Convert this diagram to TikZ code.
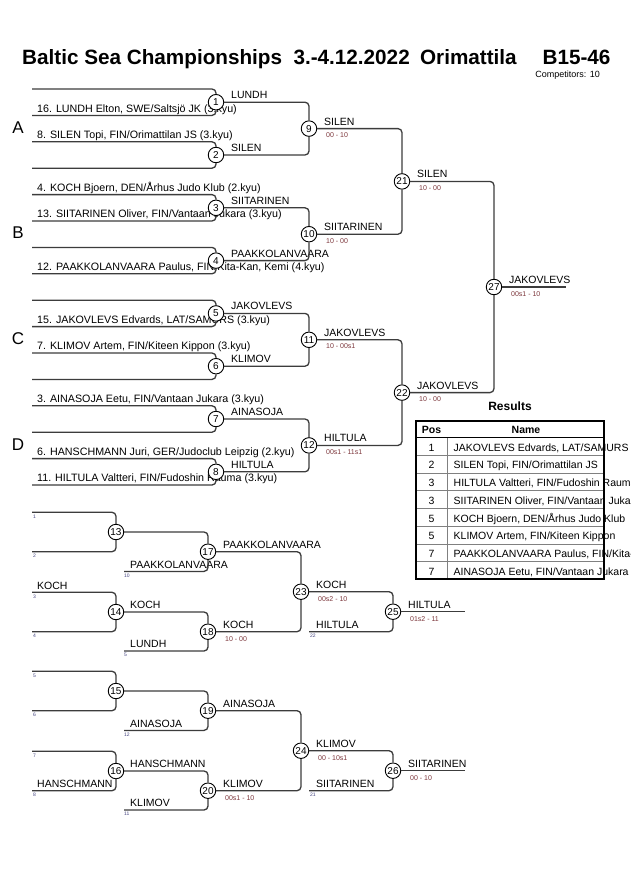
\documentclass[tikz,border=0pt]{standalone}
\usepackage{fontspec}
\setmainfont{Liberation Sans}
\definecolor{ln}{RGB}{60,60,60}
\definecolor{sc}{RGB}{125,55,60}
\definecolor{tn}{RGB}{70,70,130}
\begin{document}
\begin{tikzpicture}[x=1pt,y=-1pt,
  br/.style={draw=ln,line width=1.3pt,rounded corners=4pt},
  mc/.style={circle,draw=black,line width=0.9pt,fill=white,minimum size=15.5pt,inner sep=0pt,font=\fontsize{10}{10}\selectfont},
  nm/.style={anchor=base west,inner sep=0pt,font=\fontsize{10.5}{12}\selectfont},
  cn/.style={anchor=base west,inner sep=0pt,font=\fontsize{10.7}{12}\selectfont},
  sco/.style={anchor=base west,inner sep=0pt,text=sc,font=\fontsize{7}{8}\selectfont},
  tno/.style={anchor=base west,inner sep=0pt,text=tn,font=\fontsize{5}{6}\selectfont},
  grp/.style={inner sep=0pt,font=\fontsize{17}{20}\selectfont},
  tb/.style={draw=black,line width=2pt},
  tl/.style={draw=gray,line width=0.8pt},
  cell/.style={anchor=base,inner sep=0pt,font=\fontsize{10.5}{12}\selectfont},
  celln/.style={anchor=base west,inner sep=0pt,font=\fontsize{10.5}{12}\selectfont}
]
\useasboundingbox[fill=white] (0,0) rectangle (630,891);

% ---------- title ----------
\node[anchor=base west,inner sep=0pt,font=\fontsize{20.7}{24}\selectfont\bfseries] (title) at (22,64.5)
  {Baltic Sea Championships\hspace{0.55em}3.-4.12.2022\hspace{0.5em}Orimattila\hspace{1.25em}B15-46};
\node[anchor=base east,inner sep=0pt,font=\fontsize{9}{10}\selectfont] (comp) at (600,77.5) {Competitors: 10};

% ---------- group letters ----------
\node[grp] (gA) at (18,128) {A};
\node[grp] (gB) at (18,233) {B};
\node[grp] (gC) at (18,339) {C};
\node[grp] (gD) at (18,445) {D};

% ---------- competitor names (main) ----------
\node[cn] (c16) at (37,112.0) {16. LUNDH Elton, SWE/Saltsjö JK (3.kyu)};
\node[cn] (c8)  at (37,138.4) {8. SILEN Topi, FIN/Orimattilan JS (3.kyu)};
\node[cn] (c4)  at (37,191.2) {4. KOCH Bjoern, DEN/Århus Judo Klub (2.kyu)};
\node[cn] (c13) at (37,217.6) {13. SIITARINEN Oliver, FIN/Vantaan Jukara (3.kyu)};
\node[cn] (c12) at (37,270.4) {12. PAAKKOLANVAARA Paulus, FIN/Kita-Kan, Kemi (4.kyu)};
\node[cn] (c15) at (37,323.2) {15. JAKOVLEVS Edvards, LAT/SAMURS (3.kyu)};
\node[cn] (c7)  at (37,349.6) {7. KLIMOV Artem, FIN/Kiteen Kippon (3.kyu)};
\node[cn] (c3)  at (37,402.4) {3. AINASOJA Eetu, FIN/Vantaan Jukara (3.kyu)};
\node[cn] (c6)  at (37,455.2) {6. HANSCHMANN Juri, GER/Judoclub Leipzig (2.kyu)};
\node[cn] (c11) at (37,481.6) {11. HILTULA Valtteri, FIN/Fudoshin Rauma (3.kyu)};

% ---------- winner labels (main) ----------
\node[nm] (w1) at (231,98.6) {LUNDH};
\node[nm] (w2) at (231,151.4) {SILEN};
\node[nm] (w3) at (231,204.2) {SIITARINEN};
\node[nm] (w4) at (231,257.0) {PAAKKOLANVAARA};
\node[nm] (w5) at (231,309.8) {JAKOVLEVS};
\node[nm] (w6) at (231,362.6) {KLIMOV};
\node[nm] (w7) at (231,415.4) {AINASOJA};
\node[nm] (w8) at (231,468.2) {HILTULA};
\node[nm] (w9)  at (324,125.0) {SILEN};
\node[sco] (s9) at (326,137.6) {00 - 10};
\node[nm] (w10) at (324,230.6) {SIITARINEN};
\node[sco] (s10) at (326,243.2) {10 - 00};
\node[nm] (w11) at (324,336.2) {JAKOVLEVS};
\node[sco] (s11) at (326,348.8) {10 - 00s1};
\node[nm] (w12) at (324,441.8) {HILTULA};
\node[sco] (s12) at (326,454.4) {00s1 - 11s1};
\node[nm] (w21) at (417,177.8) {SILEN};
\node[sco] (s21) at (419,190.4) {10 - 00};
\node[nm] (w22) at (417,389.0) {JAKOVLEVS};
\node[sco] (s22) at (419,401.6) {10 - 00};
\node[nm] (w27) at (509,283.4) {JAKOVLEVS};
\node[sco] (s27) at (511,296.0) {00s1 - 10};

% ---------- match circles (main) ----------
\node[mc] (m1) at (216,102.2) {1};
\node[mc] (m2) at (216,155.0) {2};
\node[mc] (m3) at (216,207.8) {3};
\node[mc] (m4) at (216,260.6) {4};
\node[mc] (m5) at (216,313.4) {5};
\node[mc] (m6) at (216,366.2) {6};
\node[mc] (m7) at (216,419.0) {7};
\node[mc] (m8) at (216,471.8) {8};
\node[mc] (m9)  at (309,128.6) {9};
\node[mc] (m10) at (309,234.2) {10};
\node[mc] (m11) at (309,339.8) {11};
\node[mc] (m12) at (309,445.4) {12};
\node[mc] (m21) at (402,181.4) {21};
\node[mc] (m22) at (402,392.6) {22};
\node[mc] (m27) at (494,287.0) {27};

% competitor line starts
\foreach \i/\y in {1/89.0,2/115.4,3/141.8,4/168.2,5/194.6,6/221.0,7/247.4,8/273.8,9/300.2,10/326.6,11/353.0,12/379.4,13/405.8,14/432.2,15/458.6,16/485.0}
  \coordinate (p\i) at (32,\y);
\coordinate (f27) at (566,287.0);

\draw[br] (p1) -| (m1); \draw[br] (p2) -| (m1);
\draw[br] (p3) -| (m2); \draw[br] (p4) -| (m2);
\draw[br] (p5) -| (m3); \draw[br] (p6) -| (m3);
\draw[br] (p7) -| (m4); \draw[br] (p8) -| (m4);
\draw[br] (p9) -| (m5); \draw[br] (p10) -| (m5);
\draw[br] (p11) -| (m6); \draw[br] (p12) -| (m6);
\draw[br] (p13) -| (m7); \draw[br] (p14) -| (m7);
\draw[br] (p15) -| (m8); \draw[br] (p16) -| (m8);
\draw[br] (m1) -| (m9); \draw[br] (m2) -| (m9);
\draw[br] (m3) -| (m10); \draw[br] (m4) -| (m10);
\draw[br] (m5) -| (m11); \draw[br] (m6) -| (m11);
\draw[br] (m7) -| (m12); \draw[br] (m8) -| (m12);
\draw[br] (m9) -| (m21); \draw[br] (m10) -| (m21);
\draw[br] (m11) -| (m22); \draw[br] (m12) -| (m22);
\draw[br] (m21) -| (m27); \draw[br] (m22) -| (m27);
\draw[br] (m27) -- (f27);

% ---------- results table ----------
\node[anchor=base,inner sep=0pt,font=\fontsize{12}{14}\selectfont\bfseries] (restitle) at (510,410.7) {Results};
\node[cell,font=\fontsize{10.5}{12}\selectfont\bfseries] (hpos) at (431.5,433.5) {Pos};
\node[cell,font=\fontsize{10.5}{12}\selectfont\bfseries] (hname) at (526,433.5) {Name};
\foreach \k/\p/\n in {0/1/{JAKOVLEVS Edvards, LAT/SAMURS},1/2/{SILEN Topi, FIN/Orimattilan JS},2/3/{HILTULA Valtteri, FIN/Fudoshin Rauma},3/3/{SIITARINEN Oliver, FIN/Vantaan Jukara},4/5/{KOCH Bjoern, DEN/Århus Judo Klub},5/5/{KLIMOV Artem, FIN/Kiteen Kippon},6/7/{PAAKKOLANVAARA Paulus, FIN/Kita-Kan, Kemi},7/7/{AINASOJA Eetu, FIN/Vantaan Jukara}}{
  \node[cell] (rp\k) at (431.5,451.2+17.7*\k) {\p};
  \node[celln] (rn\k) at (453.5,451.2+17.7*\k) {\n};
}
\foreach \k in {1,...,7}
  \draw[tl] (416,437.7+17.7*\k) -- (604,437.7+17.7*\k);
\draw[tl] (447,437.7) -- (447,579.3);
\draw[draw=black,line width=1.2pt] (416,437.7) -- (604,437.7);
\draw[tb] (416,420.7) rectangle (604,579.3);

% ---------- repechage block 1 ----------
\node[nm] (k3) at (37,589.0) {KOCH};
\node[tno] (t1) at (33,518.0) {1};
\node[tno] (t2) at (33,557.4) {2};
\node[tno] (t3) at (33,598.0) {3};
\node[tno] (t4) at (33,637.4) {4};
\node[tno] (t10) at (124,577.4) {10};
\node[tno] (t5) at (124,656.7) {5};
\node[tno] (t22) at (310,637.4) {22};
\node[nm] (l10) at (130,568.4) {PAAKKOLANVAARA};
\node[nm] (l5) at (130,647.7) {LUNDH};
\node[nm] (w14) at (130,608.7) {KOCH};
\node[nm] (w17) at (223,548.4) {PAAKKOLANVAARA};
\node[nm] (w18) at (223,628.4) {KOCH};
\node[sco] (s18) at (225,641.0) {10 - 00};
\node[nm] (w23) at (316,588.4) {KOCH};
\node[sco] (s23) at (318,601.0) {00s2 - 10};
\node[nm] (l22) at (316,628.4) {HILTULA};
\node[nm] (w25) at (408,608.4) {HILTULA};
\node[sco] (s25) at (410,621.0) {01s2 - 11};

\node[mc] (m13) at (116,532.0) {13};
\node[mc] (m14) at (116,612.0) {14};
\node[mc] (m17) at (208,551.7) {17};
\node[mc] (m18) at (208,631.7) {18};
\node[mc] (m23) at (301,591.7) {23};
\node[mc] (m25) at (393,611.7) {25};

\coordinate (q1) at (32,512.3);
\coordinate (q2) at (32,551.7);
\coordinate (q3) at (32,592.3);
\coordinate (q4) at (32,631.7);
\coordinate (q10) at (124,571.4);
\coordinate (q5) at (124,651.0);
\coordinate (q22) at (309,631.7);
\coordinate (f25) at (465,611.7);

\draw[br] (q1) -| (m13); \draw[br] (q2) -| (m13);
\draw[br] (q3) -| (m14); \draw[br] (q4) -| (m14);
\draw[br] (m13) -| (m17); \draw[br] (q10) -| (m17);
\draw[br] (m14) -| (m18); \draw[br] (q5) -| (m18);
\draw[br] (m17) -| (m23); \draw[br] (m18) -| (m23);
\draw[br] (m23) -| (m25); \draw[br] (q22) -| (m25);
\draw[br] (m25) -- (f25);

% ---------- repechage block 2 ----------
\node[nm] (h8) at (37,787.4) {HANSCHMANN};
\node[tno] (u5) at (33,677.0) {5};
\node[tno] (u6) at (33,716.4) {6};
\node[tno] (u7) at (33,757.0) {7};
\node[tno] (u8) at (33,796.4) {8};
\node[tno] (u12) at (124,736.4) {12};
\node[tno] (u11) at (124,815.7) {11};
\node[tno] (u21) at (310,796.4) {21};
\node[nm] (l12) at (130,727.4) {AINASOJA};
\node[nm] (l11) at (130,806.7) {KLIMOV};
\node[nm] (w16) at (130,767.7) {HANSCHMANN};
\node[nm] (w19) at (223,707.4) {AINASOJA};
\node[nm] (w20) at (223,787.4) {KLIMOV};
\node[sco] (s20) at (225,800.0) {00s1 - 10};
\node[nm] (w24) at (316,747.4) {KLIMOV};
\node[sco] (s24) at (318,760.0) {00 - 10s1};
\node[nm] (l21) at (316,787.4) {SIITARINEN};
\node[nm] (w26) at (408,767.4) {SIITARINEN};
\node[sco] (s26) at (410,780.0) {00 - 10};

\node[mc] (m15) at (116,691.0) {15};
\node[mc] (m16) at (116,771.0) {16};
\node[mc] (m19) at (208,710.7) {19};
\node[mc] (m20) at (208,790.7) {20};
\node[mc] (m24) at (301,750.7) {24};
\node[mc] (m26) at (393,770.7) {26};

\coordinate (v5) at (32,671.3);
\coordinate (v6) at (32,710.7);
\coordinate (v7) at (32,751.3);
\coordinate (v8) at (32,790.7);
\coordinate (v12) at (124,730.4);
\coordinate (v11) at (124,810.0);
\coordinate (v21) at (309,790.7);
\coordinate (f26) at (465,770.7);

\draw[br] (v5) -| (m15); \draw[br] (v6) -| (m15);
\draw[br] (v7) -| (m16); \draw[br] (v8) -| (m16);
\draw[br] (m15) -| (m19); \draw[br] (v12) -| (m19);
\draw[br] (m16) -| (m20); \draw[br] (v11) -| (m20);
\draw[br] (m19) -| (m24); \draw[br] (m20) -| (m24);
\draw[br] (m24) -| (m26); \draw[br] (v21) -| (m26);
\draw[br] (m26) -- (f26);
\end{tikzpicture}
\end{document}
